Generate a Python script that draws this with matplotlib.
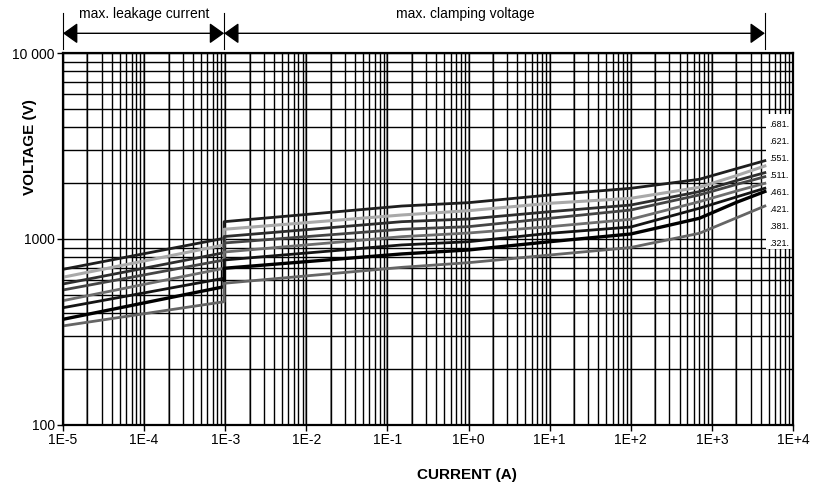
import numpy as np
import matplotlib
matplotlib.use("Agg")
import matplotlib.pyplot as plt
from matplotlib.ticker import LogLocator, FixedLocator, FixedFormatter, NullFormatter
from matplotlib.patches import Rectangle

plt.rcParams['font.family'] = ['Liberation Sans', 'DejaVu Sans']

# current where the leakage curves end and the clamping curves begin
jump_current = 9.7e-4

# leakage part (1E-5 .. 1E-3 A)
current_low = [1e-5, jump_current]
# clamping part (1E-3 .. 4.5E+3 A)
current_high = [jump_current, 0.15, 1, 10, 100, 700, 2000, 4500]

types = [".681.", ".621.", ".551.", ".511.", ".461.", ".421.", ".381.", ".321."]

v681_low = [687, 1009]
v621_low = [623, 929]
v551_low = [573, 844]
v511_low = [532, 771]
v461_low = [466, 696]
v421_low = [427, 615]
v381_low = [370, 554]
v321_low = [341, 460]

v681_high = [1239, 1504, 1568, 1725, 1873, 2094, 2386, 2636]
v621_high = [1128, 1346, 1420, 1556, 1655, 1897, 2190, 2469]
v551_high = [1031, 1239, 1281, 1402, 1523, 1797, 2060, 2273]
v511_high = [952, 1128, 1165, 1292, 1432, 1725, 1965, 2162]
v461_high = [851, 1029, 1077, 1165, 1276, 1587, 1810, 1993]
v421_high = [771, 929, 967, 1073, 1160, 1463, 1682, 1874]
v381_high = [696, 831, 873, 967, 1064, 1292, 1573, 1800]
v321_high = [578, 704, 746, 820, 900, 1073, 1298, 1504]

low_sets = [v681_low, v621_low, v551_low, v511_low, v461_low, v421_low, v381_low, v321_low]
high_sets = [v681_high, v621_high, v551_high, v511_high, v461_high, v421_high, v381_high, v321_high]

colors = ["#1e1e1e", "#a9a9a9", "#2e2e2e", "#454545", "#6e6e6e", "#141414", "#000000", "#656565"]
widths = [2.0, 2.2, 2.0, 2.0, 2.0, 2.0, 2.4, 2.0]

x_ticks = [1e-5, 1e-4, 1e-3, 1e-2, 1e-1, 1e0, 1e1, 1e2, 1e3, 1e4]
x_labels = ["1E-5", "1E-4", "1E-3", "1E-2", "1E-1", "1E+0", "1E+1", "1E+2", "1E+3", "1E+4"]
y_ticks = [100, 1000, 10000]
y_labels = ["100", "1000", "10 000"]

fig = plt.figure(figsize=(8.17, 4.90), dpi=100)
ax = fig.add_axes([0.0771, 0.1327, 0.8935, 0.7591])
ax.set_xscale("log")
ax.set_yscale("log")
ax.set_xlim(1e-5, 1e4)
ax.set_ylim(100, 10000)

# grid
ax.xaxis.set_minor_locator(LogLocator(base=10, subs=np.arange(2, 10), numticks=20))
ax.yaxis.set_minor_locator(LogLocator(base=10, subs=np.arange(2, 10), numticks=20))
ax.xaxis.set_minor_formatter(NullFormatter())
ax.yaxis.set_minor_formatter(NullFormatter())
ax.grid(True, which="both", axis="both", color="black", lw=1.0, zorder=0)
for k in range(-5, 4):
    ax.axvline(2 * 10.0 ** k, color="#8c8c8c", lw=1.3, zorder=0.5)
    ax.axvline(10.0 ** k, color="#808080", lw=1.2, zorder=0.5)

ax.xaxis.set_major_locator(FixedLocator(x_ticks))
ax.xaxis.set_major_formatter(FixedFormatter(x_labels))
ax.yaxis.set_major_locator(FixedLocator(y_ticks))
ax.yaxis.set_major_formatter(FixedFormatter(y_labels))
ax.tick_params(which="major", direction="out", length=4, width=1, pad=2, labelsize=10)
ax.tick_params(which="minor", length=0)
for s in ax.spines.values():
    s.set_linewidth(1.6)
    s.set_zorder(5)

# curves
for lo, hi, c, w in zip(low_sets, high_sets, colors, widths):
    ax.plot(current_low + current_high, lo + hi, color=c, lw=w, zorder=3,
            solid_joinstyle="round")

# white box with type labels
ax.add_patch(Rectangle((0.963, 0.472), 0.04, 0.365, transform=ax.transAxes,
                       facecolor="white", edgecolor="none", zorder=2))
for i, t in enumerate(types):
    ax.text(0.967, 0.809 - i * 0.0458, t, transform=ax.transAxes, fontsize=6.5,
            va="center", ha="left", zorder=4)

# top annotations
tr = ax.get_xaxis_transform()
arrow_y = 1.053
for xb in [1e-5, jump_current, 4500]:
    ax.plot([xb, xb], [1.01, 1.108], transform=tr, color="black", lw=0.8, clip_on=False)
style = "<|-|>,head_length=0.45,head_width=0.32"
ax.annotate("", xy=(jump_current, arrow_y), xytext=(1e-5, arrow_y), xycoords=tr, textcoords=tr,
            arrowprops=dict(arrowstyle=style, color="black", lw=1, mutation_scale=20,
                            shrinkA=0, shrinkB=0), annotation_clip=False)
ax.annotate("", xy=(4500, arrow_y), xytext=(jump_current, arrow_y), xycoords=tr, textcoords=tr,
            arrowprops=dict(arrowstyle=style, color="black", lw=1, mutation_scale=20,
                            shrinkA=0, shrinkB=0), annotation_clip=False)
ax.text(1e-4, 1.105, "max. leakage current", transform=tr, ha="center", va="center", fontsize=10)
ax.text(0.9, 1.105, "max. clamping voltage", transform=tr, ha="center", va="center", fontsize=10)

fig.text(30 / 817, 1 - 147 / 490, "VOLTAGE (V)", rotation=90, fontsize=11, fontweight="bold",
         ha="center", va="center")
fig.text(467 / 817, 1 - 475 / 490, "CURRENT (A)", fontsize=11, fontweight="bold",
         ha="center", va="center")

fig.savefig("out.png", dpi=100)
